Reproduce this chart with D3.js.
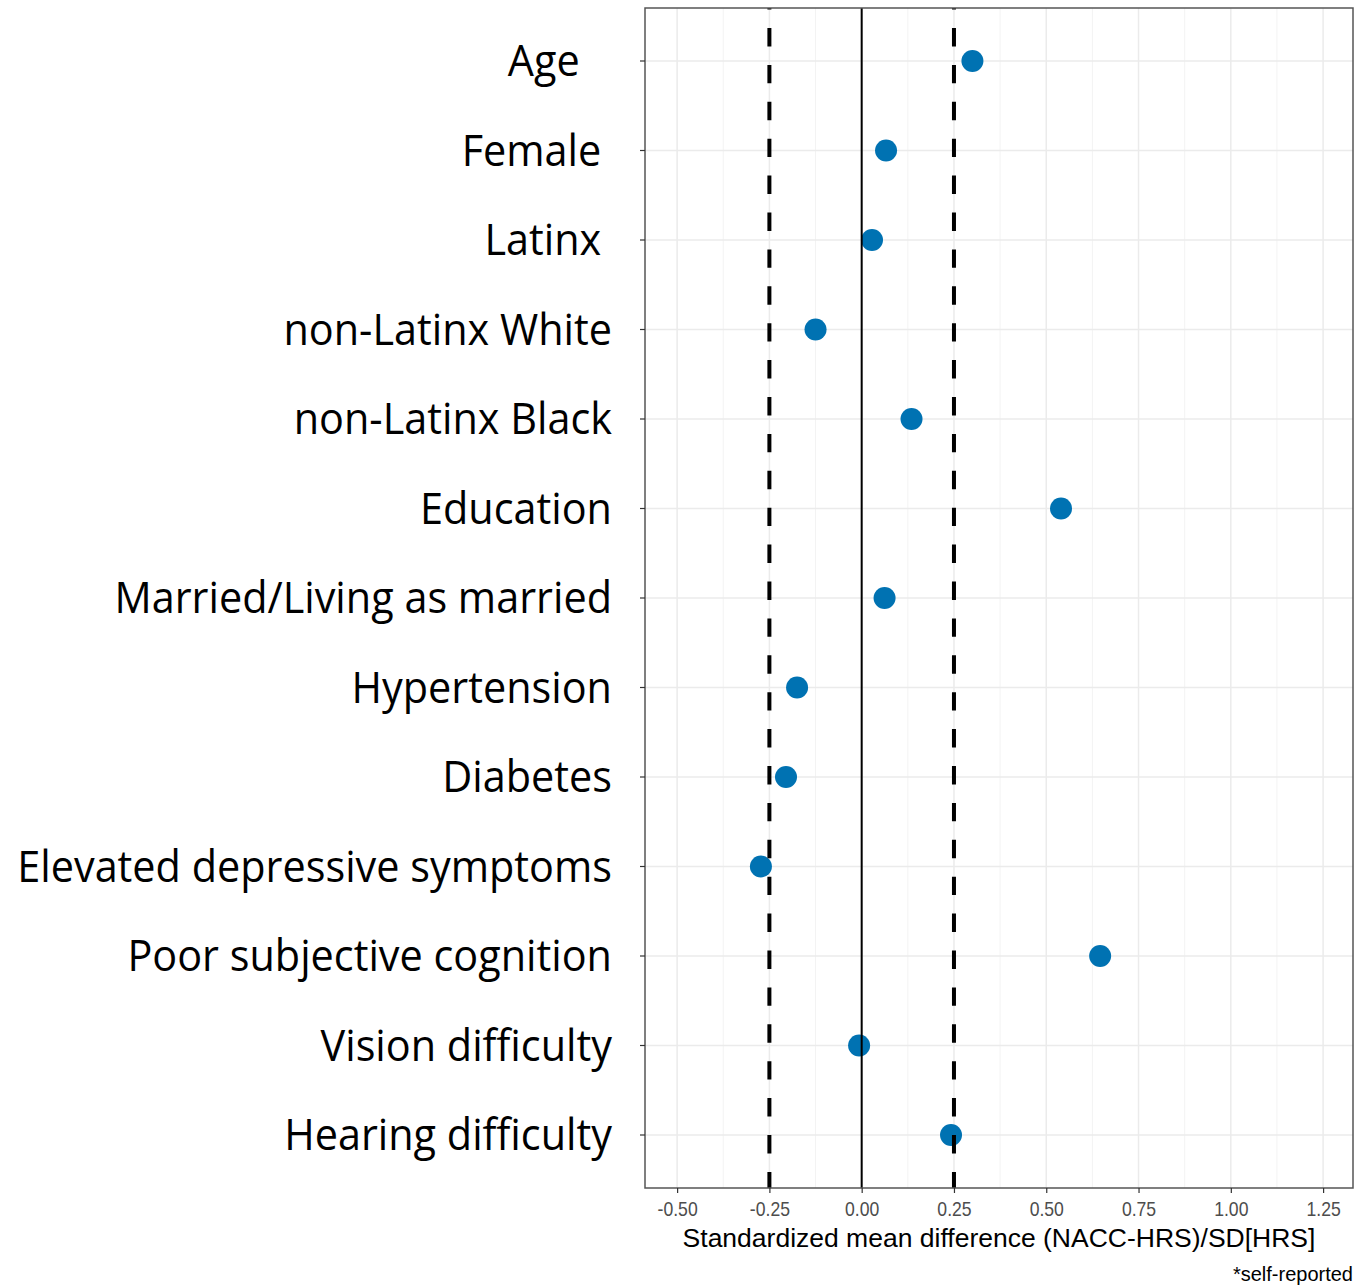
<!DOCTYPE html>
<html lang="en">
<head>
<meta charset="UTF-8">
<script src="https://d3js.org/d3.v7.min.js"></script>
<title>SMD plot</title>
<style>
  body { margin: 0; background: #fff; }
</style>
</head>
<body>
<script>
var categories = ["Age", "Female", "Latinx", "non-Latinx White", "non-Latinx Black", "Education",
  "Married/Living as married", "Hypertension", "Diabetes", "Elevated depressive symptoms",
  "Poor subjective cognition", "Vision difficulty", "Hearing difficulty"];
// label text as shown (trailing spaces in the original)
var labels = ["Age   ", "Female ", "Latinx ", "non-Latinx White", "non-Latinx Black", "Education",
  "Married/Living as married", "Hypertension", "Diabetes", "Elevated depressive symptoms",
  "Poor subjective cognition", "Vision difficulty", "Hearing difficulty"];
var smd = [0.30, 0.066, 0.028, -0.125, 0.135, 0.54, 0.062, -0.175, -0.205, -0.273, 0.646, -0.007, 0.242];
var xTicks = [-0.5, -0.25, 0, 0.25, 0.5, 0.75, 1.0, 1.25];
var minorTicks = [-0.375, -0.125, 0.125, 0.375, 0.625, 0.875, 1.125];
var refLines = [-0.25, 0.25];

var width = 1362, height = 1285;
var pLeft = 645, pRight = 1353, pTop = 8, pBottom = 1188;

var svg = d3.select("body").append("svg")
  .attr("width", width)
  .attr("height", height);

var x = d3.scaleLinear().domain([-0.587, 1.331]).range([pLeft, pRight]);
var y = d3.scalePoint().domain(categories).range([61, 1135]);

// gridlines
svg.append("g").selectAll("line.minor").data(minorTicks).enter().append("line")
  .attr("x1", d => x(d)).attr("x2", d => x(d))
  .attr("y1", pTop).attr("y2", pBottom)
  .attr("stroke", "#f3f3f3").attr("stroke-width", 1);
svg.append("g").selectAll("line.major").data(xTicks).enter().append("line")
  .attr("x1", d => x(d)).attr("x2", d => x(d))
  .attr("y1", pTop).attr("y2", pBottom)
  .attr("stroke", "#ebebeb").attr("stroke-width", 1.5);
svg.append("g").selectAll("line.hgrid").data(categories).enter().append("line")
  .attr("x1", pLeft).attr("x2", pRight)
  .attr("y1", d => y(d)).attr("y2", d => y(d))
  .attr("stroke", "#ebebeb").attr("stroke-width", 1.5);

// points
svg.append("g").selectAll("circle").data(categories).enter().append("circle")
  .attr("cx", (d, i) => x(smd[i]))
  .attr("cy", d => y(d))
  .attr("r", 11)
  .attr("fill", "#0072b2");

// zero line and reference lines (drawn over the points)
svg.append("line")
  .attr("x1", x(0)).attr("x2", x(0))
  .attr("y1", pTop).attr("y2", pBottom)
  .attr("stroke", "#000").attr("stroke-width", 2);
svg.append("g").selectAll("line.ref").data(refLines).enter().append("line")
  .attr("x1", d => x(d)).attr("x2", d => x(d))
  .attr("y1", pTop).attr("y2", pBottom)
  .attr("stroke", "#000").attr("stroke-width", 4)
  .attr("stroke-dasharray", "18.4,18.5")
  .attr("stroke-dashoffset", 16.9);

// panel border
svg.append("rect")
  .attr("x", pLeft).attr("y", pTop)
  .attr("width", pRight - pLeft).attr("height", pBottom - pTop)
  .attr("fill", "none").attr("stroke", "#555").attr("stroke-width", 1.5);

// x axis
var fmt = d3.format(".2f");
var xAxis = svg.append("g")
  .attr("transform", "translate(0," + pBottom + ")")
  .call(d3.axisBottom(x).tickValues(xTicks)
    .tickFormat(d => fmt(d).replace("\u2212", "-"))
    .tickSize(5).tickPadding(9));
xAxis.select(".domain").remove();
xAxis.selectAll(".tick line").attr("stroke", "#333").attr("stroke-width", 1.2);
xAxis.selectAll(".tick text")
  .attr("fill", "#4d4d4d")
  .style("font-family", "'Liberation Sans', Arial, sans-serif")
  .style("font-size", "20px")
  .attr("transform", "scale(0.88,1)");

// y ticks
svg.append("g").selectAll("line.ytick").data(categories).enter().append("line")
  .attr("x1", pLeft - 5).attr("x2", pLeft)
  .attr("y1", d => y(d)).attr("y2", d => y(d))
  .attr("stroke", "#333").attr("stroke-width", 1.2);

// y labels
var labG = svg.append("g").attr("transform", "translate(612,0)");
var labText = labG.selectAll("text").data(categories).enter().append("text")
  .attr("x", 0)
  .attr("y", d => y(d))
  .attr("dy", "0.35em")
  .attr("text-anchor", "end")
  .style("white-space", "pre")
  .attr("xml:space", "preserve")
  .style("font-family", "'Open Sans', 'Noto Sans', sans-serif")
  .style("font-size", "43px")
  .attr("fill", "#000")
  .text((d, i) => labels[i]);
var longest = labText.filter((d, i) => i === 9).node().getComputedTextLength();
var sx = 595 / longest;
labG.attr("transform", "translate(612,0) scale(" + sx + ",1)");

// axis title
svg.append("text")
  .attr("x", (pLeft + pRight) / 2)
  .attr("y", 1247)
  .attr("text-anchor", "middle")
  .style("font-family", "'Liberation Sans', Arial, sans-serif")
  .style("font-size", "26.5px")
  .attr("fill", "#000")
  .text("Standardized mean difference (NACC-HRS)/SD[HRS]");

svg.append("text")
  .attr("x", pRight)
  .attr("y", 1281)
  .attr("text-anchor", "end")
  .style("font-family", "'Liberation Sans', Arial, sans-serif")
  .style("font-size", "20px")
  .attr("fill", "#000")
  .text("*self-reported");
</script>
</body>
</html>
